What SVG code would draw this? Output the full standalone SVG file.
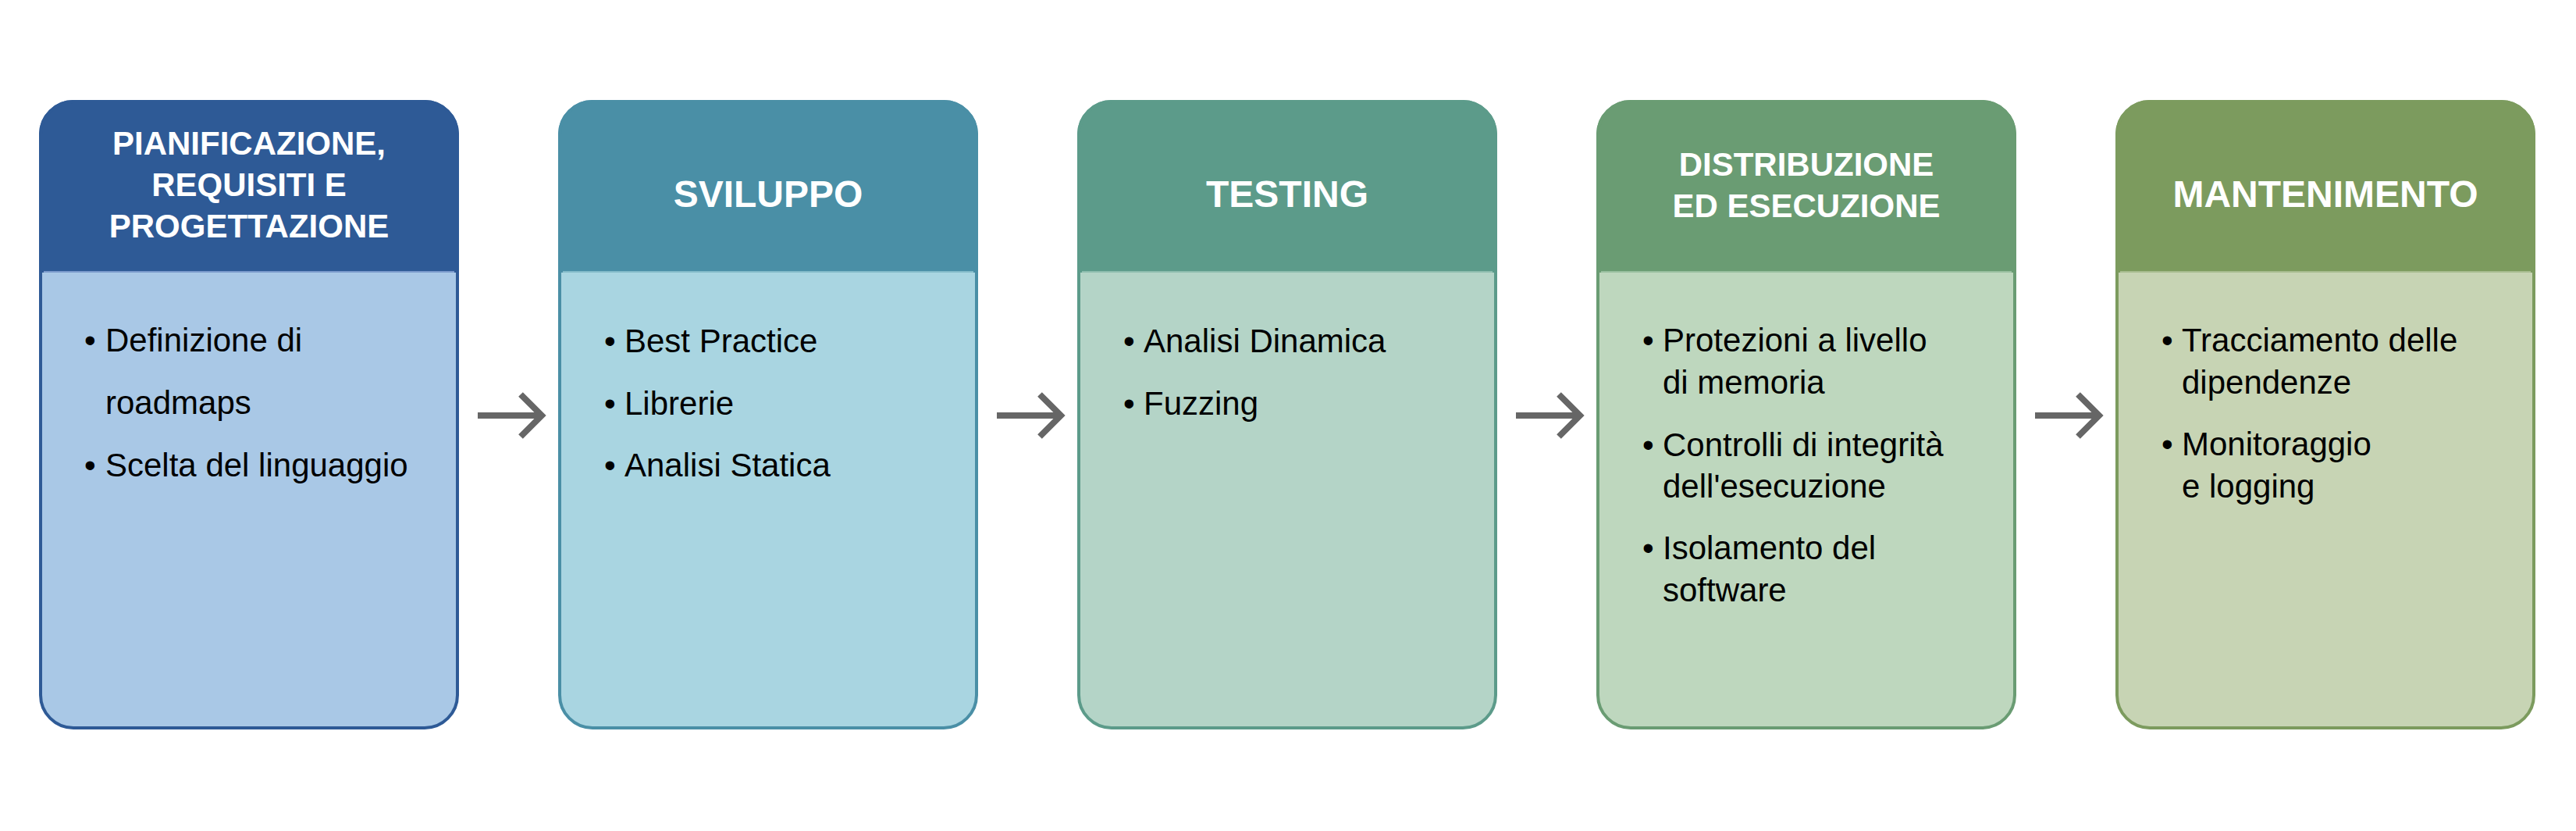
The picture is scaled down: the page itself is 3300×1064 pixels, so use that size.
<svg xmlns="http://www.w3.org/2000/svg" width="3300" height="1064" viewBox="0 0 3300 1064">
<defs>
<style>
.hd{font-family:"Liberation Sans",Arial,sans-serif;font-weight:bold;fill:#FFFFFF;text-anchor:middle}
.bd{font-family:"Liberation Sans",Arial,sans-serif;font-size:42px;fill:#000000}
.arr{fill:none;stroke:#666666;stroke-width:8}
.sep{stroke-width:2}
</style>
</defs>
<rect width="3300" height="1064" fill="#FFFFFF"/>

<g id="node1">
<rect x="52" y="130" width="534" height="802" rx="42" fill="#A9C8E6" stroke="#2E5A96" stroke-width="4"/>
<path d="M52 347 V172 A42 42 0 0 1 94 130 H544 A42 42 0 0 1 586 172 V347 Z" fill="#2E5A96" stroke="#2E5A96" stroke-width="4"/>
<line class="sep" x1="56" y1="348" x2="582" y2="348" stroke="#7A9ACB"/>
<text class="hd" font-size="42" x="319" y="198">PIANIFICAZIONE,</text>
<text class="hd" font-size="42" x="319" y="251">REQUISITI E</text>
<text class="hd" font-size="42" x="319" y="304">PROGETTAZIONE</text>
<text class="bd" x="108" y="450">•</text><text class="bd" x="135" y="450">Definizione di</text>
<text class="bd" x="135" y="530">roadmaps</text>
<text class="bd" x="108" y="610">•</text><text class="bd" x="135" y="610">Scelta del linguaggio</text>
</g>

<g id="node2">
<rect x="717" y="130" width="534" height="802" rx="42" fill="#A9D5E1" stroke="#4A8FA6" stroke-width="4"/>
<path d="M717 347 V172 A42 42 0 0 1 759 130 H1209 A42 42 0 0 1 1251 172 V347 Z" fill="#4A8FA6" stroke="#4A8FA6" stroke-width="4"/>
<line class="sep" x1="721" y1="348" x2="1247" y2="348" stroke="#82BAC9"/>
<text class="hd" font-size="48" x="984" y="265">SVILUPPO</text>
<text class="bd" x="774" y="451">•</text><text class="bd" x="800" y="451">Best Practice</text>
<text class="bd" x="774" y="531">•</text><text class="bd" x="800" y="531">Librerie</text>
<text class="bd" x="774" y="610">•</text><text class="bd" x="800" y="610">Analisi Statica</text>
</g>

<g id="node3">
<rect x="1382" y="130" width="534" height="802" rx="42" fill="#B4D4C7" stroke="#5C9B8A" stroke-width="4"/>
<path d="M1382 347 V172 A42 42 0 0 1 1424 130 H1874 A42 42 0 0 1 1916 172 V347 Z" fill="#5C9B8A" stroke="#5C9B8A" stroke-width="4"/>
<line class="sep" x1="1386" y1="348" x2="1912" y2="348" stroke="#8DBDAE"/>
<text class="hd" font-size="48" x="1649" y="265">TESTING</text>
<text class="bd" x="1439" y="451">•</text><text class="bd" x="1465" y="451">Analisi Dinamica</text>
<text class="bd" x="1439" y="531">•</text><text class="bd" x="1465" y="531">Fuzzing</text>
</g>

<g id="node4">
<rect x="2047" y="130" width="534" height="802" rx="42" fill="#BED7BE" stroke="#6A9C73" stroke-width="4"/>
<path d="M2047 347 V172 A42 42 0 0 1 2089 130 H2539 A42 42 0 0 1 2581 172 V347 Z" fill="#6A9C73" stroke="#6A9C73" stroke-width="4"/>
<line class="sep" x1="2051" y1="348" x2="2577" y2="348" stroke="#98BF9E"/>
<text class="hd" font-size="42" x="2314" y="225">DISTRIBUZIONE</text>
<text class="hd" font-size="42" x="2314" y="278">ED ESECUZIONE</text>
<text class="bd" x="2104" y="450">•</text><text class="bd" x="2130" y="450">Protezioni a livello</text>
<text class="bd" x="2130" y="504">di memoria</text>
<text class="bd" x="2104" y="584">•</text><text class="bd" x="2130" y="584">Controlli di integrità</text>
<text class="bd" x="2130" y="637">dell'esecuzione</text>
<text class="bd" x="2104" y="716">•</text><text class="bd" x="2130" y="716">Isolamento del</text>
<text class="bd" x="2130" y="770">software</text>
</g>

<g id="node5">
<rect x="2712" y="130" width="534" height="802" rx="42" fill="#C7D4B4" stroke="#7C9B5E" stroke-width="4"/>
<path d="M2712 347 V172 A42 42 0 0 1 2754 130 H3204 A42 42 0 0 1 3246 172 V347 Z" fill="#7C9B5E" stroke="#7C9B5E" stroke-width="4"/>
<line class="sep" x1="2716" y1="348" x2="3242" y2="348" stroke="#A6BC8E"/>
<text class="hd" font-size="48" x="2979" y="265">MANTENIMENTO</text>
<text class="bd" x="2769" y="450">•</text><text class="bd" x="2795" y="450">Tracciamento delle</text>
<text class="bd" x="2795" y="504">dipendenze</text>
<text class="bd" x="2769" y="583">•</text><text class="bd" x="2795" y="583">Monitoraggio</text>
<text class="bd" x="2795" y="637">e logging</text>
</g>

<g id="connectors">
<path class="arr" d="M612 532 H694 M667 505 L694 532 L667 559"/>
<path class="arr" d="M1277 532 H1359 M1332 505 L1359 532 L1332 559"/>
<path class="arr" d="M1942 532 H2024 M1997 505 L2024 532 L1997 559"/>
<path class="arr" d="M2607 532 H2689 M2662 505 L2689 532 L2662 559"/>
</g>
</svg>
